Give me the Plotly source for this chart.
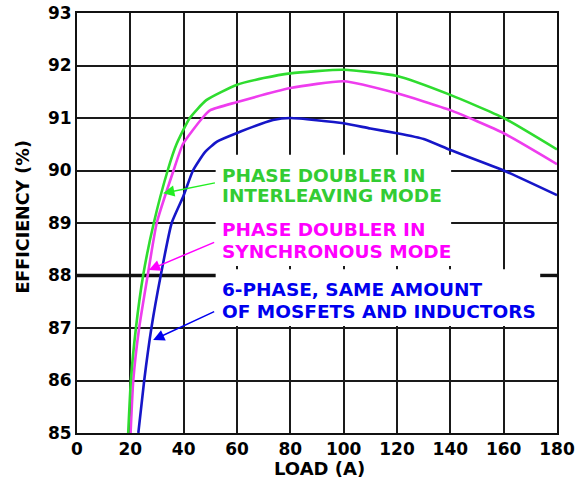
import plotly.graph_objects as go

# ---- data ----
interleave_load = [19.2, 20.2, 22.1, 24.8, 28.8, 34.0, 37.3, 42.3, 48.5, 59.8, 70, 80, 100, 120, 140, 160, 180]
interleave_eff = [85, 86, 87, 88, 89, 90, 90.5, 91, 91.34, 91.63, 91.76, 91.85, 91.92, 91.8, 91.44, 91.0, 90.4]

sync_load = [20.1, 21.1, 23.3, 26.5, 29.9, 36.2, 39.7, 47.0, 50, 59.8, 80, 100, 120, 140, 160, 180]
sync_eff = [85, 86, 87, 88, 89, 90, 90.5, 91, 91.15, 91.3, 91.57, 91.7, 91.47, 91.15, 90.71, 90.12]

six_load = [23.0, 25.2, 27.9, 31.4, 35.5, 39.8, 43.5, 48.0, 52.5, 59.8, 73.5, 80, 100, 110, 120, 130, 140, 160, 180]
six_eff = [85, 86, 87, 88, 89, 89.5, 90, 90.35, 90.55, 90.71, 90.96, 91.0, 90.9, 90.8, 90.71, 90.6, 90.39, 90.0, 89.53]

x_ticks = [0, 20, 40, 60, 80, 100, 120, 140, 160, 180]
y_ticks = [85, 86, 87, 88, 89, 90, 91, 92, 93]

green_text = ["PHASE DOUBLER IN", "INTERLEAVING MODE"]
pink_text = ["PHASE DOUBLER IN", "SYNCHRONOUS MODE"]
blue_text = ["6-PHASE, SAME AMOUNT", "OF MOSFETS AND INDUCTORS"]

GREEN_LINE = "#2fdc2f"
PINK_LINE = "#ee3dee"
BLUE_LINE = "#1616c8"
GREEN_TXT = "#33cc33"
PINK_TXT = "#ff00ff"
BLUE_TXT = "#0000ee"
FONT = "DejaVu Sans"

fig = go.Figure()
for xs, ys, col in [(six_load, six_eff, BLUE_LINE),
                    (sync_load, sync_eff, PINK_LINE),
                    (interleave_load, interleave_eff, GREEN_LINE)]:
    fig.add_trace(go.Scatter(x=xs, y=ys, mode="lines",
                             line=dict(color=col, width=2.6, shape="spline", smoothing=0.5),
                             showlegend=False, hoverinfo="skip"))

shapes = [
    dict(type="line", xref="x", yref="y", x0=0, x1=180, y0=88, y1=88,
         line=dict(color="#111111", width=3.5), layer="between"),
    dict(type="rect", xref="x", yref="y", x0=52.0, x1=140.3, y0=88.18, y1=90.3,
         fillcolor="white", line=dict(width=0), layer="between"),
    dict(type="rect", xref="x", yref="y", x0=52.0, x1=173.7, y0=87.04, y1=88.12,
         fillcolor="white", line=dict(width=0), layer="between"),
    dict(type="rect", xref="x", yref="y", x0=173.7, x1=179.5, y0=87.04, y1=87.96,
         fillcolor="white", line=dict(width=0), layer="between"),
]

annotations = []
def label(text, y, color):
    annotations.append(dict(x=53.8, y=y, xref="x", yref="y", text=text, showarrow=False,
                            xanchor="left", yanchor="middle",
                            font=dict(family=FONT, size=18.5, color=color, weight="bold")))

label(green_text[0], 89.914, GREEN_TXT)
label(green_text[1], 89.533, GREEN_TXT)
label(pink_text[0], 88.867, PINK_TXT)
label(pink_text[1], 88.453, PINK_TXT)
label(blue_text[0], 87.724, BLUE_TXT)
label(blue_text[1], 87.31, BLUE_TXT)

def arrow(x, y, ax, ay, color):
    annotations.append(dict(x=x, y=y, ax=ax, ay=ay, xref="x", yref="y", axref="x", ayref="y",
                            text="", showarrow=True, arrowhead=2, arrowsize=1.5,
                            arrowwidth=1.5, arrowcolor=color, standoff=0, startstandoff=0))

arrow(32.3, 89.566, 52.28, 89.77, "#22ee22")
arrow(26.95, 88.105, 52.0, 88.644, PINK_TXT)
arrow(28.56, 86.771, 52.0, 87.324, BLUE_TXT)

annotations.append(dict(x=0.506, y=-0.0845, xref="paper", yref="paper", text="LOAD (A)",
                        showarrow=False, xanchor="center", yanchor="middle",
                        font=dict(family=FONT, size=18, color="black", weight="bold")))
annotations.append(dict(x=-0.1145, y=0.513, xref="paper", yref="paper", text="EFFICIENCY (%)",
                        showarrow=False, xanchor="center", yanchor="middle", textangle=-90,
                        font=dict(family=FONT, size=17.5, color="black", weight="bold")))

axis_common = dict(showgrid=True, gridcolor="#1a1a1a", gridwidth=2, zeroline=False,
                   showline=True, linecolor="#111111", linewidth=2, mirror=True,
                   automargin=False,
                   ticks="", tickfont=dict(family=FONT, size=17, color="black", weight="bold"))

fig.update_layout(
    width=579, height=479,
    margin=dict(l=77, r=21.5, t=13, b=46),
    paper_bgcolor="white", plot_bgcolor="white",
    xaxis=dict(range=[0, 180], tickvals=x_ticks, **axis_common),
    yaxis=dict(range=[85, 93], tickvals=y_ticks, **axis_common),
    shapes=shapes, annotations=annotations,
)

# remove the default page margin so the figure sits at the window's corner
fig.write_html("out.html",
               config={"displayModeBar": False},
               post_script="document.body.style.margin='0';document.body.style.overflow='hidden';")
